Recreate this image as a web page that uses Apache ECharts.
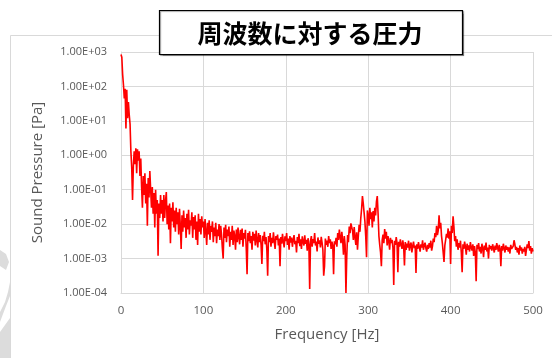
<!DOCTYPE html>
<html>
<head>
<meta charset="utf-8">
<script src="https://cdn.jsdelivr.net/npm/echarts@6/dist/echarts.min.js"></script>
<style>
html,body{margin:0;padding:0;background:#fff;}
#chart{width:552px;height:358px;}
</style>
</head>
<body>
<div id="chart"></div>
<script>
const titleText = "周波数に対する圧力";
const xName = "Frequency [Hz]";
const yName = "Sound Pressure [Pa]";
const xTicks = [0, 100, 200, 300, 400, 500];
const yTicks = [1e-4, 1e-3, 1e-2, 1e-1, 1e0, 1e1, 1e2, 1e3];
// frequency step: 1 Hz, starting at 0 Hz
const freqStart = 0;
const freqStep = 1;
const pressure = [
850, 700, 220, 110, 45, 85, 6, 80, 12, 35,
15, 8, 1.3, 0.45, 0.05, 0.5, 1.3, 0.55, 1.6, 0.3,
1.5, 0.7, 1.3, 0.25, 0.8, 0.12, 0.03, 0.25, 0.07, 0.3,
0.04, 0.15, 0.009, 0.22, 0.06, 0.35, 0.1, 0.03, 0.12, 0.02,
0.08, 0.008, 0.1, 0.02, 0.05, 0.0012, 0.04, 0.015, 0.07, 0.02,
0.05, 0.012, 0.07, 0.015, 0.045, 0.085, 0.01, 0.035, 0.007, 0.04,
0.0028, 0.03, 0.012, 0.043, 0.008, 0.025, 0.006, 0.03, 0.01, 0.022,
0.005, 0.028, 0.009, 0.0019, 0.018, 0.006, 0.025, 0.008, 0.015, 0.004,
0.02, 0.007, 0.026, 0.005, 0.013, 0.009, 0.022, 0.004, 0.016, 0.007,
0.018, 0.0035, 0.012, 0.0025, 0.02, 0.006, 0.014, 0.005, 0.017, 0.008,
0.012, 0.004, 0.014, 0.006, 0.0025, 0.011, 0.005, 0.013, 0.0035, 0.009,
0.006, 0.012, 0.003, 0.008, 0.0045, 0.011, 0.0028, 0.007, 0.0045, 0.01,
0.0035, 0.009, 0.005, 0.002, 0.001, 0.008, 0.004, 0.0095, 0.003, 0.007,
0.0045, 0.0085, 0.0022, 0.006, 0.0035, 0.009, 0.0025, 0.0065, 0.0045, 0.0018,
0.007, 0.003, 0.008, 0.0042, 0.0026, 0.0068, 0.0035, 0.0075, 0.0022, 0.0055,
0.0038, 0.0068, 0.002, 0.00035, 0.0055, 0.0032, 0.0062, 0.0028, 0.0045, 0.0018,
0.006, 0.0033, 0.0052, 0.0024, 0.0065, 0.0035, 0.0021, 0.0055, 0.003, 0.0048,
0.0025, 0.0007, 0.0046, 0.0032, 0.006, 0.0026, 0.0042, 0.0018, 0.00032, 0.0045,
0.003, 0.0055, 0.0022, 0.004, 0.0028, 0.0058, 0.0032, 0.0019, 0.0045, 0.0035,
0.005, 0.0024, 0.0038, 0.0006, 0.0042, 0.0027, 0.0052, 0.0031, 0.0021, 0.0044,
0.0032, 0.0055, 0.0025, 0.0038, 0.0018, 0.0045, 0.0029, 0.0041, 0.0022, 0.0035,
0.0048, 0.0026, 0.0033, 0.0015, 0.0042, 0.0028, 0.0052, 0.0023, 0.0036, 0.0019,
0.0044, 0.0031, 0.0024, 0.0047, 0.0027, 0.0035, 0.0017, 0.0039, 0.0026, 0.00013,
0.0032, 0.0045, 0.0022, 0.0037, 0.0028, 0.0055, 0.0024, 0.0031, 0.0016, 0.0041,
0.0027, 0.0034, 0.0021, 0.0043, 0.0029, 0.0018, 0.00032, 0.0006, 0.0038, 0.0025,
0.0033, 0.0022, 0.0045, 0.0028, 0.0036, 0.0019, 0.0031, 0.0024, 0.00035, 0.0032,
0.0026, 0.004, 0.0022, 0.0055, 0.0035, 0.007, 0.0042, 0.0028, 0.006, 0.0034,
0.0013, 0.0045, 0.0025, 0.0001, 0.0012, 0.0048, 0.003, 0.0085, 0.0055, 0.0105,
0.012, 0.0065, 0.0035, 0.0082, 0.0042, 0.0025, 0.0058, 0.0018, 0.0045, 0.0095,
0.006, 0.015, 0.028, 0.065, 0.04, 0.022, 0.012, 0.0045, 0.0011, 0.025,
0.018, 0.009, 0.03, 0.014, 0.022, 0.008, 0.024, 0.012, 0.03, 0.018,
0.045, 0.065, 0.02, 0.0045, 0.0025, 0.0015, 0.0006, 0.0035, 0.005, 0.0028,
0.0072, 0.0038, 0.006, 0.0024, 0.0045, 0.0032, 0.0018, 0.004, 0.0028, 0.0035,
0.0021, 0.00017, 0.0033, 0.0025, 0.0042, 0.0028, 0.0004, 0.0031, 0.0022, 0.0036,
0.0026, 0.0019, 0.0034, 0.0023, 0.00063, 0.003, 0.0018, 0.0027, 0.0021, 0.0033,
0.0017, 0.0025, 0.0029, 0.0015, 0.0023, 0.0031, 0.002, 0.0024, 0.00038, 0.0026,
0.0019, 0.003, 0.0022, 0.0016, 0.0026, 0.0021, 0.0034, 0.0018, 0.0024, 0.0029,
0.002, 0.0016, 0.0025, 0.0019, 0.0028, 0.0021, 0.0033, 0.0017, 0.0023, 0.0038,
0.003, 0.0055, 0.0042, 0.009, 0.0048, 0.0065, 0.018, 0.0075, 0.011, 0.0045,
0.0028, 0.0015, 0.0008, 0.0024, 0.0035, 0.0052, 0.0041, 0.0075, 0.0038, 0.0062,
0.0007, 0.009, 0.0055, 0.017, 0.0085, 0.0032, 0.0045, 0.0022, 0.0036, 0.0018,
0.0028, 0.0021, 0.0033, 0.0015, 0.0004, 0.0026, 0.0019, 0.0031, 0.0022, 0.0013,
0.0027, 0.0018, 0.0024, 0.0016, 0.003, 0.0021, 0.0017, 0.0026, 0.0012, 0.0023,
0.0015, 0.00022, 0.0025, 0.0019, 0.0028, 0.0016, 0.0022, 0.0014, 0.0027, 0.002,
0.0011, 0.0024, 0.0018, 0.0029, 0.0016, 0.0021, 0.001, 0.0025, 0.0019, 0.0023,
0.0017, 0.0026, 0.002, 0.0015, 0.0024, 0.0018, 0.0028, 0.0021, 0.0016, 0.0025,
0.0019, 0.0006, 0.0023, 0.0017, 0.0027, 0.002, 0.0015, 0.0024, 0.0018, 0.0022,
0.0016, 0.0021, 0.0014, 0.0025, 0.0019, 0.0017, 0.0023, 0.0034, 0.0026, 0.0018,
0.0022, 0.0015, 0.002, 0.0013, 0.0024, 0.0017, 0.0021, 0.0014, 0.0019, 0.0016,
0.0022, 0.0012, 0.0018, 0.0026, 0.002, 0.0032, 0.0017, 0.0023, 0.0014, 0.002,
0.0016
];

const seriesData = pressure.map((v, i) => [freqStart + i * freqStep, v]);

function fmtE(v) {
  const s = Number(v).toExponential(2).toUpperCase(); // e.g. 1.00E+3
  const m = s.match(/^(.*)E([+-])(\d+)$/);
  if (!m) return s;
  return m[1] + 'E' + m[2] + (m[3].length < 2 ? '0' + m[3] : m[3]);
}

const chart = echarts.init(document.getElementById('chart'), null, {renderer: 'canvas'});
const labelColor = '#595959';
const gridColor = '#d9d9d9';
const fontFam = '"Open Sans", "Noto Sans", sans-serif';

chart.setOption({
  animation: false,
  backgroundColor: '#ffffff',
  grid: {left: 121, right: 19, top: 52, bottom: 65, containLabel: false},
  xAxis: {
    type: 'value', min: xTicks[0], max: xTicks[xTicks.length - 1], interval: 100,
    name: xName, nameLocation: 'middle', nameGap: 34,
    nameTextStyle: {color: labelColor, fontSize: 15, fontFamily: fontFam},
    axisLine: {show: true, lineStyle: {color: gridColor, width: 1}},
    axisTick: {show: false},
    axisLabel: {color: labelColor, fontSize: 11.5, fontFamily: fontFam, margin: 12},
    splitLine: {show: true, lineStyle: {color: gridColor, width: 1}}
  },
  yAxis: {
    type: 'log', logBase: 10, min: yTicks[0], max: yTicks[yTicks.length - 1],
    name: yName, nameLocation: 'middle', nameGap: 76,
    nameTextStyle: {color: labelColor, fontSize: 15, fontFamily: fontFam},
    axisLine: {show: true, lineStyle: {color: gridColor, width: 1}},
    axisTick: {show: false},
    axisLabel: {color: labelColor, fontSize: 11, fontFamily: fontFam, margin: 14, formatter: fmtE},
    splitLine: {show: true, lineStyle: {color: gridColor, width: 1}}
  },
  graphic: [
    {type: 'rect', z: -10, silent: true, shape: {x: 10.5, y: 35.5, width: 560, height: 340},
     style: {fill: 'none', stroke: '#d9d9d9', lineWidth: 1}},
    {type: 'polygon', z: -10, silent: true,
     shape: {points: [[0,250],[6,254],[9,262],[6,270],[0,266]]},
     style: {fill: '#dcdcdc'}},
    {type: 'polygon', z: -10, silent: true,
     shape: {points: [[10,282],[10,296],[6,306],[0,322],[0,312],[5,302],[8,292]]},
     style: {fill: '#dcdcdc'}},
    {type: 'polygon', z: -10, silent: true,
     shape: {points: [[0,332],[10,318],[10,358],[0,358]]},
     style: {fill: '#dcdcdc'}},
    {type: 'rect', z: 100, shape: {x: 159.5, y: 10.5, width: 303, height: 44},
     style: {fill: '#ffffff', stroke: '#000000', lineWidth: 1.2, shadowColor: 'rgba(0,0,0,0.35)', shadowOffsetX: 1, shadowOffsetY: 1, shadowBlur: 1}},
    {type: 'text', z: 101, x: 310, y: 33,
     style: {text: titleText, fill: '#000', font: 'bold 25px "Noto Sans CJK JP", sans-serif', textAlign: 'center', textVerticalAlign: 'middle'}}
  ],
  series: [{
    type: 'line', data: seriesData, showSymbol: false, symbol: 'none',
    lineStyle: {color: '#ff0000', width: 1.6}, z: 5
  }]
});
</script>
</body>
</html>
